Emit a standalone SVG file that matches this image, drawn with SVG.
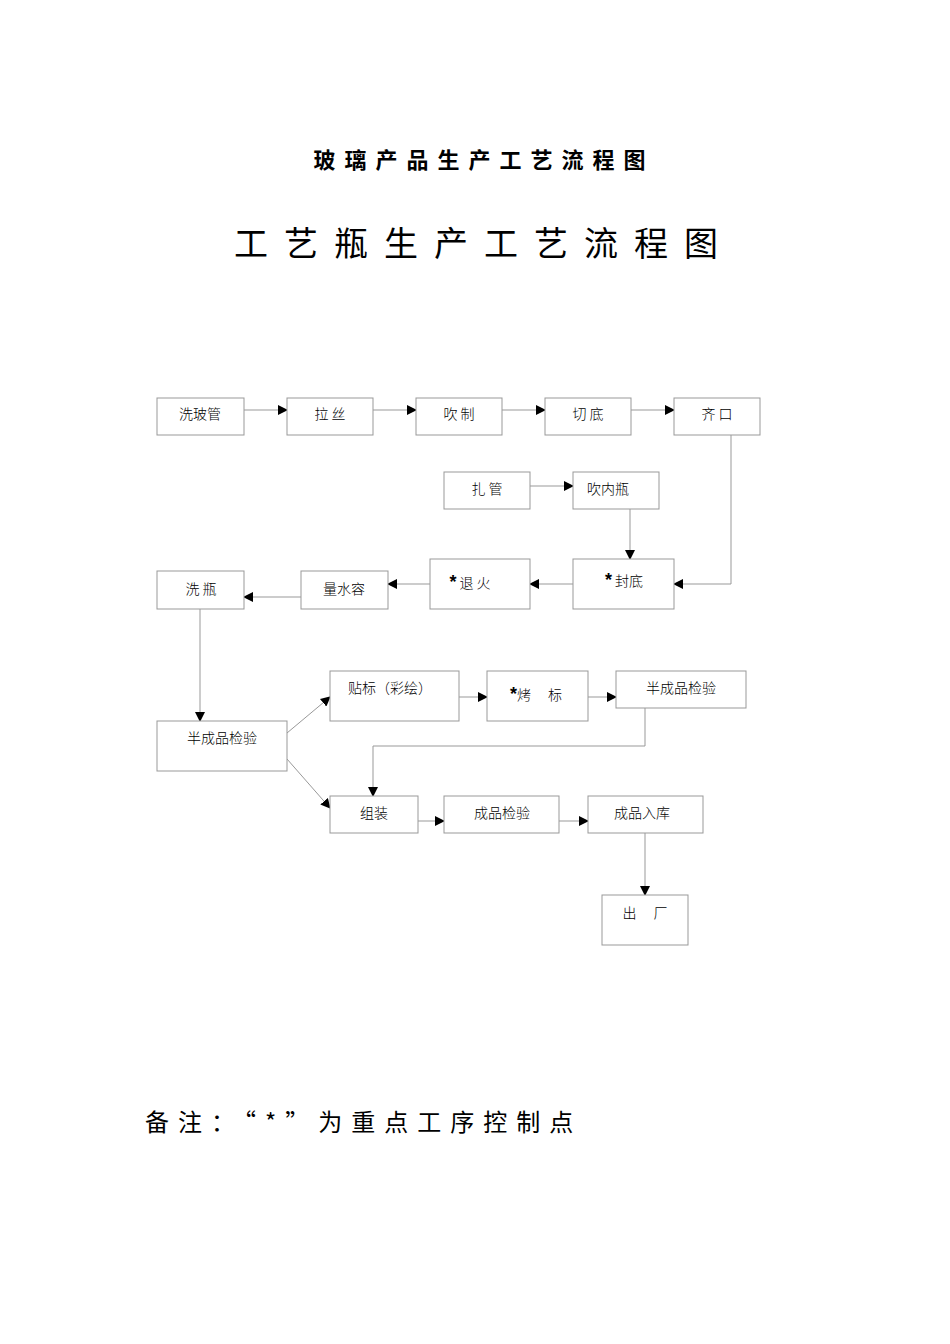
<svg xmlns="http://www.w3.org/2000/svg" width="950" height="1344" viewBox="0 0 950 1344">
<style>
rect{fill:#fff;stroke:#999;stroke-width:1}
text{font-family:"Noto Sans CJK SC","Liberation Sans",sans-serif;fill:#000;font-size:14px;text-anchor:middle;font-weight:300}
.s{font-family:"Liberation Sans",sans-serif;font-size:18px;font-weight:700}
.c path{fill:none;stroke:#999;stroke-width:1}
</style>
<defs><marker id="a" markerWidth="10" markerHeight="10" refX="9" refY="5" orient="auto" markerUnits="userSpaceOnUse"><path d="M0,0L10,5L0,10z" fill="#000"/></marker></defs>
<rect x="0" y="0" width="950" height="1344" style="stroke:none"/>
<text x="484" y="168" style="font-size:22px;font-weight:bold;letter-spacing:9px">玻璃产品生产工艺流程图</text>
<text x="484" y="256" style="font-size:34px;letter-spacing:16px;font-weight:400">工艺瓶生产工艺流程图</text>
<text x="145" y="1131" style="font-size:24px;letter-spacing:9px;text-anchor:start;font-weight:400">备注：“*”为重点工序控制点</text>
<g class="c">
<path d="M244,410H287" marker-end="url(#a)"/>
<path d="M373,410H416" marker-end="url(#a)"/>
<path d="M502,410H545" marker-end="url(#a)"/>
<path d="M631,410H674" marker-end="url(#a)"/>
<path d="M530,486H573" marker-end="url(#a)"/>
<path d="M630,509V559" marker-end="url(#a)"/>
<path d="M731,435V584H674" marker-end="url(#a)"/>
<path d="M573,584H530" marker-end="url(#a)"/>
<path d="M430,584H388" marker-end="url(#a)"/>
<path d="M301,597H244" marker-end="url(#a)"/>
<path d="M200,609V721" marker-end="url(#a)"/>
<path d="M287,733L330,697" marker-end="url(#a)"/>
<path d="M287,759L330,808" marker-end="url(#a)"/>
<path d="M459,697H487" marker-end="url(#a)"/>
<path d="M588,697H616" marker-end="url(#a)"/>
<path d="M645,708V746H373V796" marker-end="url(#a)"/>
<path d="M418,821H444" marker-end="url(#a)"/>
<path d="M559,821H588" marker-end="url(#a)"/>
<path d="M645,833V895" marker-end="url(#a)"/>
</g>
<g id="n1"><rect x="157" y="398" width="87" height="37"/><text x="200" y="419">洗玻管</text></g>
<g id="n2"><rect x="287" y="398" width="86" height="37"/><text x="330" y="419">拉 丝</text></g>
<g id="n3"><rect x="416" y="398" width="86" height="37"/><text x="459" y="419">吹 制</text></g>
<g id="n4"><rect x="545" y="398" width="86" height="37"/><text x="588" y="419">切 底</text></g>
<g id="n5"><rect x="674" y="398" width="86" height="37"/><text x="717" y="419">齐 口</text></g>
<g id="n6"><rect x="444" y="472" width="86" height="37"/><text x="487" y="494">扎 管</text></g>
<g id="n7"><rect x="573" y="472" width="86" height="37"/><text x="608" y="494">吹内瓶</text></g>
<g id="n8"><rect x="573" y="559" width="101" height="50"/><text x="624" y="586"><tspan class="s">*</tspan> 封底</text></g>
<g id="n9"><rect x="430" y="559" width="100" height="50"/><text x="470" y="588"><tspan class="s">*</tspan> 退 火</text></g>
<g id="n10"><rect x="301" y="571" width="87" height="38"/><text x="344" y="594">量水容</text></g>
<g id="n11"><rect x="157" y="571" width="87" height="38"/><text x="201" y="594">洗 瓶</text></g>
<g id="n12"><rect x="157" y="721" width="130" height="50"/><text x="222" y="743">半成品检验</text></g>
<g id="n13"><rect x="330" y="671" width="129" height="50"/><text x="390" y="693">贴标（彩绘）</text></g>
<g id="n14"><rect x="487" y="671" width="101" height="50"/><text x="536" y="700"><tspan class="s">*</tspan>烤　 标</text></g>
<g id="n15"><rect x="616" y="671" width="130" height="37"/><text x="681" y="693">半成品检验</text></g>
<g id="n16"><rect x="330" y="796" width="88" height="37"/><text x="374" y="818">组装</text></g>
<g id="n17"><rect x="444" y="796" width="115" height="37"/><text x="502" y="818">成品检验</text></g>
<g id="n18"><rect x="588" y="796" width="115" height="37"/><text x="642" y="818">成品入库</text></g>
<g id="n19"><rect x="602" y="895" width="86" height="50"/><text x="645" y="918">出　 厂</text></g>
</svg>
